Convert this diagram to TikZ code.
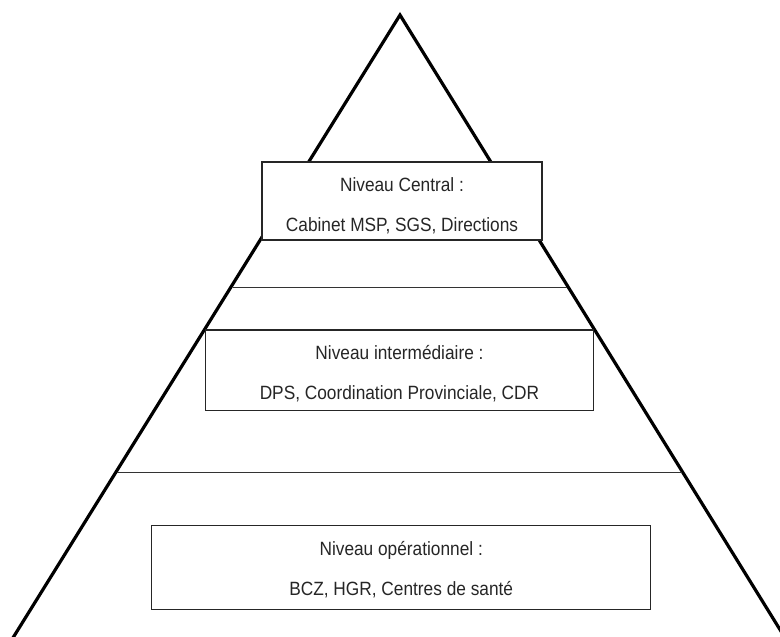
\documentclass[tikz,border=0pt]{standalone}
\usepackage{fontspec}
\setmainfont[FakeStretch=0.9]{Liberation Sans}
\begin{document}
\begin{tikzpicture}[x=1pt,y=-1pt,
  edge/.style={line width=3.2pt, line join=miter, black},
  tier/.style={line width=1.3pt, black!80},
  lvl/.style={draw=black!85, line width=1.3pt, fill=white, inner sep=0pt, rectangle},
  txt/.style={inner sep=0pt, anchor=base, font=\fontsize{19.2}{22}\selectfont, text=black!85}]
\useasboundingbox (0,0) rectangle (780,637);
\clip (0,0) rectangle (780,637);
% pyramid outline
\coordinate (apex) at (400,15);
\coordinate (bl) at (8.5,645);
\coordinate (br) at (789.5,645);
\draw[edge] (bl) -- (apex) -- (br);
% tier separators
\coordinate (s1l) at (232.5,287.3);
\coordinate (s1r) at (567,287.3);
\coordinate (s2l) at (116.5,472.7);
\coordinate (s2r) at (682,472.7);
\draw[tier] (s1l) -- (s1r);
\draw[tier] (s2l) -- (s2r);
% boxes
\node[lvl, minimum width=280pt, minimum height=78pt] (central) at (402,201) {};
\node[lvl, minimum width=387.5pt, minimum height=80.7pt] (inter) at (399.5,370.3) {};
\node[lvl, minimum width=499pt, minimum height=83.6pt] (oper) at (401.2,567.5) {};
% texts
\node[txt] (c1) at (402,191.5) {Niveau Central :};
\node[txt] (c2) at (402,231.5) {Cabinet MSP, SGS, Directions};
\node[txt] (i1) at (399.5,359.2) {Niveau intermédiaire :};
\node[txt] (i2) at (399.5,399.8) {DPS, Coordination Provinciale, CDR};
\node[txt] (o1) at (401.2,555) {Niveau opérationnel :};
\node[txt] (o2) at (401.2,595.5) {BCZ, HGR, Centres de santé};
\end{tikzpicture}
\end{document}
